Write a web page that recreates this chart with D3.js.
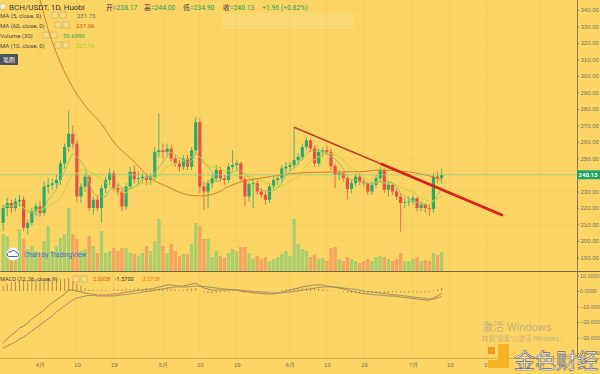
<!DOCTYPE html>
<html>
<head>
<meta charset="utf-8">
<script src="https://cdn.jsdelivr.net/npm/d3@7"></script>
<style>
  body { margin: 0; background: #fdd566; }
  svg { display: block; font-family: Roboto, "Noto Sans CJK SC", sans-serif; }
</style>
</head>
<body>
<svg id="chart" width="600" height="374"></svg>
<script>
// daily candles, first one on 2020-03-23
const startDate = new Date(2020, 2, 23)
const opens = [211, 220, 223, 220, 224, 225, 208, 211, 218, 221,
  217, 233, 234, 235, 237, 247, 257, 265, 259, 227,
  233, 239, 220, 225, 220, 232, 237, 241, 232, 230,
  221, 233, 242, 237.5, 238, 239, 237, 239, 254, 255,
  254, 256, 250, 247, 245, 250, 245, 255, 272, 233,
  230, 235, 238, 243, 238, 237, 245, 246, 247, 237.5,
  227, 234.5, 235, 230, 228, 225, 233, 237, 238, 244,
  245, 246, 249, 251, 257, 261, 256, 247, 254, 255,
  254, 245.5, 240, 241, 238, 231.5, 235, 239, 236, 235,
  230, 234, 238, 243, 231, 234, 230, 227, 223, 223.5,
  224, 226, 220, 222, 220, 219.5, 239, 238.17]
const highs = [222, 226, 225, 226, 228, 227, 213, 220, 223, 224,
  236, 238, 238, 240, 249, 259, 279, 270, 261, 235,
  241, 240, 227, 227, 234, 239, 244, 243, 235, 232,
  235, 245, 246, 242, 241, 241, 241, 257, 277.5, 259,
  259, 258, 252, 249, 252, 252, 257, 275, 274, 236,
  237, 240, 246, 245, 240, 247, 255, 249, 248, 239,
  236, 238, 237, 232, 230, 235, 239, 240, 246, 248,
  248, 269, 253, 259, 263, 262, 258, 256, 257, 258,
  256, 247, 243, 242, 240, 237, 241, 241, 238, 236,
  236, 240, 245, 244, 236, 235, 232, 229, 226, 227,
  228, 227, 224, 223, 222, 241, 242, 244]
const lows = [206, 215, 217, 218, 221, 206, 204, 209, 215, 215,
  215, 229, 231, 232, 234, 244, 254, 256, 224, 223,
  230, 218, 216, 218, 211, 229, 234, 230, 228, 218,
  219, 231, 235, 234, 235, 234, 234, 237, 251, 250,
  251, 248, 245, 242, 243, 243, 243, 253, 229, 219,
  220, 232, 236, 236, 234, 235, 243, 243, 236, 221,
  224, 220, 228, 226, 222, 223, 231, 234, 235, 241,
  242, 244, 246, 249, 255, 254, 245, 245, 251, 252,
  243, 232, 237, 236, 225, 229, 233, 234, 233, 228,
  228, 232, 236, 229, 227, 228, 225, 205.5, 220, 221,
  222, 218, 218, 217, 215, 217, 235, 234.9]
const closes = [220, 223, 220, 224, 225, 208, 211, 218, 221, 217,
  233, 234, 235, 237, 247, 257, 265, 259, 227, 233,
  239, 220, 225, 220, 232, 237, 241, 232, 230, 221,
  233, 242, 237.5, 238, 239, 237, 239, 254, 255, 254,
  256, 250, 247, 245, 250, 245, 255, 272, 233, 230,
  235, 238, 243, 238, 237, 245, 246, 247, 237.5, 227,
  234.5, 235, 230, 228, 225, 233, 237, 238, 244, 245,
  246, 249, 251, 257, 261, 256, 247, 254, 255, 254,
  245.5, 240, 241, 238, 231.5, 235, 239, 236, 235, 230,
  234, 238, 243, 231, 234, 230, 227, 223, 223.5, 224,
  226, 220, 222, 220, 219.5, 239, 238.17, 240.13]
// volume in K
const volumes = [111, 105, 69, 60, 126, 96, 66, 75, 60, 54,
  90, 135, 60, 75, 99, 111, 189, 111, 96, 60,
  66, 105, 75, 54, 120, 54, 60, 69, 60, 69,
  69, 54, 51, 45, 54, 75, 60, 90, 156, 75,
  54, 81, 60, 45, 51, 51, 81, 144, 135, 96,
  96, 42, 60, 45, 39, 54, 66, 60, 72, 72,
  54, 36, 45, 36, 42, 30, 36, 42, 51, 60,
  45, 156, 81, 66, 60, 42, 48, 36, 39, 30,
  69, 72, 36, 30, 42, 36, 30, 24, 30, 36,
  30, 42, 45, 42, 36, 30, 36, 54, 30, 30,
  36, 42, 30, 33, 30, 54, 48, 55.688]
const macdLine = [-33.5, -31, -28.4, -26.5, -23.9, -22.6, -20.6, -18, -16.1, -14.2,
  -12.3, -9.7, -7.7, -5.8, -3.9, -1.9, 0.6, 0.6, 0, -0.6,
  -1.3, -1.9, -1.9, -2.6, -2.6, -2.6, -2.6, -1.9, -1.9, -1.3,
  -0.6, -0.6, 0, 0.6, 0.6, 1.3, 1.3, 1.9, 2.6, 3.2,
  3.9, 3.9, 3.5, 3.2, 3.2, 3.9, 4.5, 5.2, 3.2, 1.9,
  1.3, 0.6, 0.6, 0.6, 0.6, 0.6, 0.6, 0.6, 0, -0.6,
  -0.6, -1.3, -1.3, -1.6, -1.9, -1.9, -1.9, -1.3, -0.6, 0,
  0.6, 1.3, 1.9, 2.6, 3.2, 3.5, 3.9, 3.9, 3.9, 3.2,
  2.9, 2.3, 1.9, 1.3, 0.6, 0, -0.6, -1.3, -1.6, -1.9,
  -2.3, -2.6, -2.6, -2.9, -3.2, -3.2, -3.5, -3.9, -4.2, -4.5,
  -4.8, -5.2, -5.5, -5.8, -5.8, -4.5, -3.2, -1.57]
const signalLine = [-36.8, -35.5, -34.2, -32.9, -31, -29.7, -27.7, -25.8, -23.9, -21.9,
  -20, -18, -16.1, -13.5, -11.6, -9.7, -7.7, -5.8, -4.5, -3.9,
  -3.2, -2.9, -2.9, -3.2, -3.2, -3.2, -3.2, -3.2, -2.9, -2.6,
  -2.3, -1.9, -1.6, -1.3, -0.6, -0.3, 0, 0.6, 1, 1.3,
  1.9, 2.3, 2.6, 2.6, 2.6, 2.6, 2.9, 3.2, 3.2, 2.9,
  2.6, 2.3, 1.9, 1.6, 1.3, 1, 1, 0.6, 0.6, 0.3,
  0, -0.3, -0.6, -0.6, -1, -1.3, -1.3, -1.3, -1.3, -1,
  -0.6, -0.3, 0, 0.6, 1, 1.3, 1.9, 2.3, 2.6, 2.6,
  2.6, 2.6, 2.3, 1.9, 1.6, 1.3, 1, 0.6, 0, -0.3,
  -0.6, -1, -1.3, -1.6, -1.9, -2.3, -2.6, -2.9, -3.2, -3.5,
  -3.9, -4.2, -4.5, -4.8, -5.2, -5.2, -4.5, -3.5728]

// MA60 (its history starts before the first candle)
const ma60Index = [7, 9, 11, 14, 17, 20, 24, 27, 32, 36, 40, 45, 48, 52, 55, 59, 63, 68, 72, 80, 87, 92, 97, 102, 105, 107]
const ma60Values = [360, 346, 328, 308, 293, 282, 271, 260, 248, 238, 233, 228, 227.3, 229, 233, 236.4, 238.2, 240, 241.2, 241.8, 242, 243, 242.4, 240.6, 238.8, 237.06]

// trend line drawn on the chart
const trendDates = [new Date(2020, 5, 2), new Date(2020, 6, 22, 17)]
const trendPrices = [269, 215.8]

const priceTicks = d3.range(190, 341, 10)
const macdTicks = [10, 0, -10, -20, -30, -40]
const timeTickDates = [new Date(2020, 3, 1), new Date(2020, 3, 10), new Date(2020, 3, 19),
  new Date(2020, 4, 1), new Date(2020, 4, 10), new Date(2020, 4, 19),
  new Date(2020, 5, 1), new Date(2020, 5, 10), new Date(2020, 5, 19),
  new Date(2020, 6, 1), new Date(2020, 6, 10), new Date(2020, 6, 19),
  new Date(2020, 7, 1)]
const timeTickLabels = ['4月', '10', '19', '5月', '10', '19', '6月', '10', '19', '7月', '10', '19', '8月']

const legendRows = [
  { name: 'MA (5, close, 0)', value: '231.73', color: '#6d6d5c' },
  { name: 'MA (60, close, 0)', value: '237.06', color: '#e0571f' },
  { name: 'Volume (30)', value: '55.688K', color: '#3aa845' },
  { name: 'MA (10, close, 0)', value: '227.16', color: '#a9c91c' }
]
const lastPrice = 240.13

const upColor = '#2aab6a'
const downColor = '#ea5042'

const svg = d3.select('#chart')
const axisX = 577
const mainBottom = 271
const macdBottom = 358

const dates = closes.map((d, i) => d3.timeDay.offset(startDate, i))
const idx = d3.range(closes.length)

// scales
const x = d3.scaleTime()
  .domain([new Date(2020, 3, 1), new Date(2020, 7, 1)])
  .range([40, 540])
const yPrice = d3.scaleLinear().domain([190, 340]).range([257.5, 10])
const yVol = d3.scaleLinear().domain([0, 210]).range([mainBottom, 201])
const yMacd = d3.scaleLinear().domain([-40, 10]).range([353, 275.5])

const defs = svg.append('defs')
defs.append('clipPath').attr('id', 'clipMain')
  .append('rect').attr('x', 0).attr('y', 0).attr('width', axisX).attr('height', mainBottom)
defs.append('clipPath').attr('id', 'clipMacd')
  .append('rect').attr('x', 0).attr('y', mainBottom + 1).attr('width', axisX).attr('height', macdBottom - mainBottom - 1)

svg.append('rect').attr('width', 600).attr('height', 374).attr('fill', '#fdd566')

// faint grid
const grid = svg.append('g')
grid.selectAll('line.v').data(timeTickDates).join('line')
  .attr('class', 'v')
  .attr('x1', d => x(d)).attr('x2', d => x(d))
  .attr('y1', 0).attr('y2', macdBottom)
  .attr('stroke', '#8a6d20').attr('stroke-opacity', 0.07)
grid.selectAll('line.h').data(priceTicks).join('line')
  .attr('class', 'h')
  .attr('x1', 0).attr('x2', axisX)
  .attr('y1', d => yPrice(d)).attr('y2', d => yPrice(d))
  .attr('stroke', '#8a6d20').attr('stroke-opacity', 0.05)

// faded box near the top
svg.append('rect')
  .attr('x', 222).attr('y', 13).attr('width', 132).attr('height', 16)
  .attr('fill', '#fff').attr('fill-opacity', 0.1)

const main = svg.append('g').attr('clip-path', 'url(#clipMain)')

// volume
main.selectAll('rect.vol').data(idx).join('rect')
  .attr('class', 'vol')
  .attr('x', i => x(dates[i]) - 1.7)
  .attr('width', 3.4)
  .attr('y', i => yVol(volumes[i]))
  .attr('height', i => yVol(0) - yVol(volumes[i]))
  .attr('fill', i => closes[i] >= opens[i] ? '#a8cf6c' : '#f5a45f')

// candles
main.selectAll('line.wick').data(idx).join('line')
  .attr('class', 'wick')
  .attr('x1', i => x(dates[i])).attr('x2', i => x(dates[i]))
  .attr('y1', i => yPrice(highs[i])).attr('y2', i => yPrice(lows[i]))
  .attr('stroke', i => closes[i] >= opens[i] ? upColor : downColor)
  .attr('stroke-width', 0.8)
main.selectAll('rect.body').data(idx).join('rect')
  .attr('class', 'body')
  .attr('x', i => x(dates[i]) - 1.6)
  .attr('width', 3.2)
  .attr('y', i => yPrice(Math.max(opens[i], closes[i])))
  .attr('height', i => Math.max(0.8, Math.abs(yPrice(opens[i]) - yPrice(closes[i]))))
  .attr('fill', i => closes[i] >= opens[i] ? upColor : downColor)

// moving averages
const movingAvg = n => idx.map(i => d3.mean(closes.slice(Math.max(0, i - n + 1), i + 1)))
const ma5 = movingAvg(5)
const ma10 = movingAvg(10)
const priceLine = d3.line()
  .x(d => x(dates[d[0]]))
  .y(d => yPrice(d[1]))

main.append('path')
  .datum(idx.map(i => [i, ma10[i]]))
  .attr('d', priceLine)
  .attr('fill', 'none').attr('stroke', '#c6d63c').attr('stroke-width', 1)
main.append('path')
  .datum(idx.map(i => [i, ma5[i]]))
  .attr('d', priceLine)
  .attr('fill', 'none').attr('stroke', '#93c46e').attr('stroke-width', 1)
main.append('path')
  .datum(ma60Index.map((d, k) => [d, ma60Values[k]]))
  .attr('d', priceLine.curve(d3.curveMonotoneX))
  .attr('fill', 'none').attr('stroke', '#d6812e').attr('stroke-width', 1)

// last price line
main.append('line')
  .attr('x1', 0).attr('x2', axisX)
  .attr('y1', yPrice(lastPrice)).attr('y2', yPrice(lastPrice))
  .attr('stroke', '#8fcf86').attr('stroke-width', 0.8)

// trend line, thin at its start and heavier further right
const t0 = [x(trendDates[0]), yPrice(trendPrices[0])]
const t1 = [x(trendDates[1]), yPrice(trendPrices[1])]
const tMid = d3.interpolate(t0, t1)(0.42)
main.append('line')
  .attr('x1', t0[0]).attr('y1', t0[1]).attr('x2', t1[0]).attr('y2', t1[1])
  .attr('stroke', '#c4402a').attr('stroke-width', 1.6)
main.append('line')
  .attr('x1', tMid[0]).attr('y1', tMid[1]).attr('x2', t1[0]).attr('y2', t1[1])
  .attr('stroke', '#d4231b').attr('stroke-width', 2.6).attr('stroke-linecap', 'round')

// MACD pane
const macdG = svg.append('g').attr('clip-path', 'url(#clipMacd)')
macdG.selectAll('line.hist').data(idx).join('line')
  .attr('class', 'hist')
  .attr('x1', i => x(dates[i])).attr('x2', i => x(dates[i]))
  .attr('y1', yMacd(0))
  .attr('y2', i => yMacd(macdLine[i] - signalLine[i]))
  .attr('stroke', '#7a6440').attr('stroke-opacity', 0.75).attr('stroke-width', 0.8)
const macdPath = d3.line().x((d, i) => x(dates[i])).y(d => yMacd(d))
macdG.append('path').datum(macdLine).attr('d', macdPath)
  .attr('fill', 'none').attr('stroke', '#a08052').attr('stroke-width', 0.9)
macdG.append('path').datum(signalLine).attr('d', macdPath)
  .attr('fill', 'none').attr('stroke', '#9a8a68').attr('stroke-width', 0.9)

// pane borders
svg.append('line').attr('x1', 0).attr('x2', 600).attr('y1', mainBottom + 0.5).attr('y2', mainBottom + 0.5)
  .attr('stroke', '#6f6448').attr('stroke-width', 1)
svg.append('line').attr('x1', 0).attr('x2', 600).attr('y1', macdBottom + 0.5).attr('y2', macdBottom + 0.5)
  .attr('stroke', '#b59a4a').attr('stroke-width', 0.6)
svg.append('line').attr('x1', axisX + 0.5).attr('x2', axisX + 0.5).attr('y1', 0).attr('y2', macdBottom)
  .attr('stroke', '#8a7a4c').attr('stroke-width', 1)

// right axes
const styleAxis = size => g => {
  g.select('.domain').remove()
  g.selectAll('.tick line').attr('stroke', '#8a7a4c')
  g.selectAll('.tick text').attr('fill', '#7a7160').attr('font-size', size)
}
svg.append('g')
  .attr('transform', 'translate(' + axisX + ',0)')
  .call(d3.axisRight(yPrice).tickValues(priceTicks).tickFormat(d3.format('.2f')).tickSize(2).tickPadding(1.5))
  .call(styleAxis(6))
svg.append('g')
  .attr('transform', 'translate(' + axisX + ',0)')
  .call(d3.axisRight(yMacd).tickValues(macdTicks).tickFormat(d3.format('.4f')).tickSize(2).tickPadding(1))
  .call(styleAxis(5.4))

// last price label
svg.append('rect')
  .attr('x', axisX).attr('y', yPrice(lastPrice) - 4.5).attr('width', 23).attr('height', 9)
  .attr('fill', '#22a36a')
svg.append('text')
  .attr('x', axisX + 11).attr('y', yPrice(lastPrice) + 2.2)
  .attr('text-anchor', 'middle').attr('font-size', 6).attr('font-weight', 'bold').attr('fill', '#fff')
  .text(d3.format('.2f')(lastPrice))

// time axis
svg.append('g')
  .attr('transform', 'translate(0,' + macdBottom + ')')
  .call(d3.axisBottom(x).tickValues(timeTickDates).tickFormat((d, i) => timeTickLabels[i]).tickSize(0).tickPadding(5))
  .call(g => {
    g.select('.domain').remove()
    g.selectAll('.tick text').attr('fill', '#7a7160').attr('font-size', 6)
  })

// title line
svg.append('circle').attr('cx', 3).attr('cy', 6.5).attr('r', 3.3)
  .attr('fill', '#f4e9c8').attr('stroke', '#c9a95a').attr('stroke-width', 0.6)
svg.append('text').attr('x', 9).attr('y', 10).attr('font-size', 8).attr('fill', '#3a3a3a')
  .text('BCH/USDT, 1D, Huobi')
const ohlcLabels = [['开', '=238.17', 106], ['高', '=244.00', 144], ['低', '=234.90', 183], ['收', '=240.13', 223]]
ohlcLabels.forEach(d => {
  const t = svg.append('text').attr('x', d[2]).attr('y', 9.5).attr('font-size', 6.8)
  t.append('tspan').attr('fill', '#3a3a3a').text(d[0])
  t.append('tspan').attr('fill', '#27a05a').text(d[1])
})
svg.append('text').attr('x', 262).attr('y', 9.5).attr('font-size', 6.8).attr('fill', '#27a05a')
  .text('+1.96 (+0.82%)')

// indicator legend
const boxX = [52, 55, 43, 55]
const valueX = [77, 76, 63, 76]
legendRows.forEach((d, k) => {
  const yy = 18 + k * 10
  svg.append('text').attr('x', 0).attr('y', yy).attr('font-size', 6).attr('fill', '#4a4a40').text(d.name)
  ;[0, 8].forEach(dx => {
    svg.append('rect').attr('x', boxX[k] + dx).attr('y', yy - 6).attr('width', 6).attr('height', 6)
      .attr('fill', '#fff').attr('fill-opacity', 0.15).attr('stroke', '#b8a070').attr('stroke-width', 0.5)
  })
  svg.append('text').attr('x', valueX[k]).attr('y', yy).attr('font-size', 6).attr('fill', d.color).text(d.value)
})
svg.append('rect').attr('x', 0).attr('y', 54).attr('width', 18).attr('height', 11).attr('rx', 1).attr('fill', '#4d5158')
svg.append('text').attr('x', 9).attr('y', 62).attr('text-anchor', 'middle').attr('font-size', 6)
  .attr('fill', '#eee').text('笔刷')

// MACD legend
const macdLegend = svg.append('text').attr('x', 0).attr('y', 281).attr('font-size', 5.6)
macdLegend.append('tspan').attr('fill', '#4a4a40').text('MACD (12, 26, close, 9)')
;[73, 81].forEach(bx => {
  svg.append('rect').attr('x', bx).attr('y', 276).attr('width', 6).attr('height', 6)
    .attr('fill', '#fff').attr('fill-opacity', 0.15).attr('stroke', '#b8a070').attr('stroke-width', 0.5)
})
const macdValues = [['2.0028', 93, '#e8541e'], ['-1.5700', 115, '#3a3a3a'], ['-3.5728', 141, '#f07a20']]
macdValues.forEach(d => {
  svg.append('text').attr('x', d[1]).attr('y', 281).attr('font-size', 5.6).attr('fill', d[2]).text(d[0])
})

// TradingView mark
svg.append('circle').attr('cx', 13).attr('cy', 254).attr('r', 6.5).attr('fill', '#fff').attr('fill-opacity', 0.9)
svg.append('path')
  .attr('d', 'M8.5 256.5 h9 a2 2 0 0 0 -1 -3.8 a3 3 0 0 0 -5.6 -0.6 a2.2 2.2 0 0 0 -2.4 4.4 z')
  .attr('fill', 'none').attr('stroke', '#2f6fd0').attr('stroke-width', 1)
svg.append('text').attr('x', 24).attr('y', 256.5).attr('font-size', 6.6).attr('fill', '#3673d6')
  .text('Chart by TradingView')

// watermarks
svg.append('text').attr('x', 482).attr('y', 331).attr('font-size', 11).attr('fill', '#9a9a92').attr('fill-opacity', 0.6)
  .text('激活 Windows')
svg.append('text').attr('x', 482).attr('y', 341).attr('font-size', 6.4).attr('fill', '#9a9a92').attr('fill-opacity', 0.6)
  .text('转到“设置”以激活 Windows。')
svg.append('rect').attr('x', 488).attr('y', 347).attr('width', 7).attr('height', 7).attr('fill', '#f29a1f')
svg.append('path').attr('d', 'M498 344 h11 v24 h-21 v-8 h10 z').attr('fill', '#f5b323')
svg.append('text').attr('x', 514).attr('y', 368).attr('font-size', 21)
  .attr('font-family', '"Noto Sans CJK SC", sans-serif')
  .attr('fill', '#fff').attr('stroke', '#6b6b6b').attr('stroke-width', 0.7)
  .text('金色财经')
</script>
</body>
</html>
